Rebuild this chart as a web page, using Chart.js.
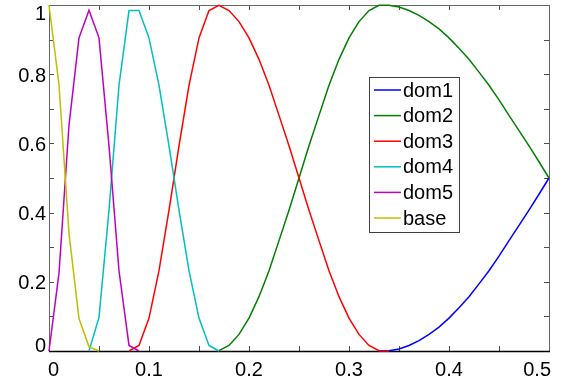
<!DOCTYPE html>
<html>
<head>
<meta charset="utf-8">
<script src="https://cdn.jsdelivr.net/npm/chart.js@4.4.1/dist/chart.umd.min.js"></script>
<style>
  html, body { margin: 0; padding: 0; background: #fff; }
  canvas { display: block; }
</style>
</head>
<body>
<canvas id="chart-canvas" width="566" height="382"></canvas>
<script>
// sample positions along x (0 .. 0.5)
const xs = [0, 0.01, 0.02, 0.03, 0.04, 0.05, 0.06, 0.07, 0.08, 0.09,
  0.10, 0.11, 0.12, 0.13, 0.14, 0.15, 0.16, 0.17, 0.18, 0.19,
  0.20, 0.21, 0.22, 0.23, 0.24, 0.25, 0.26, 0.27, 0.28, 0.29,
  0.30, 0.31, 0.32, 0.33, 0.34, 0.35, 0.36, 0.37, 0.38, 0.39,
  0.40, 0.41, 0.42, 0.43, 0.44, 0.45, 0.46, 0.47, 0.48, 0.49, 0.50];

const N = null;
// values, null where a curve is not drawn
const dom1 = [N, N, N, N, N, N, N, N, N, N,
  N, N, N, N, N, N, N, N, N, N,
  N, N, N, N, N, N, N, N, N, N,
  N, N, N, 0, 0.001, 0.006, 0.016, 0.030, 0.048, 0.069,
  0.095, 0.125, 0.157, 0.194, 0.232, 0.274, 0.319, 0.363, 0.407, 0.453, 0.50];
const dom2 = [N, N, N, N, N, N, N, N, N, N,
  N, N, N, N, N, N, N, 0.001, 0.016, 0.048,
  0.095, 0.157, 0.232, 0.319, 0.407, 0.50, 0.593, 0.681, 0.768, 0.843,
  0.905, 0.952, 0.984, 0.999, 0.999, 0.994, 0.984, 0.970, 0.952, 0.931,
  0.905, 0.875, 0.843, 0.806, 0.768, 0.726, 0.681, 0.637, 0.593, 0.547, 0.50];
const dom3 = [N, N, N, N, N, N, N, N, 0, 0.016,
  0.095, 0.232, 0.407, 0.593, 0.768, 0.905, 0.984, 0.999, 0.984, 0.952,
  0.905, 0.843, 0.768, 0.681, 0.593, 0.50, 0.407, 0.319, 0.232, 0.157,
  0.095, 0.048, 0.016, 0.001, 0, N, N, N, N, N,
  N, N, N, N, N, N, N, N, N, N, N];
const dom4 = [N, N, N, N, 0, 0.097, 0.407, 0.768, 0.984, 0.984,
  0.905, 0.768, 0.593, 0.407, 0.232, 0.095, 0.016, 0, N, N,
  N, N, N, N, N, N, N, N, N, N,
  N, N, N, N, N, N, N, N, N, N,
  N, N, N, N, N, N, N, N, N, N, N];
const dom5 = [0, 0.225, 0.653, 0.905, 0.985, 0.905, 0.593, 0.232, 0.016, 0,
  N, N, N, N, N, N, N, N, N, N,
  N, N, N, N, N, N, N, N, N, N,
  N, N, N, N, N, N, N, N, N, N,
  N, N, N, N, N, N, N, N, N, N, N];
const base = [1, 0.77, 0.34, 0.094, 0.012, 0, N, N, N, N,
  N, N, N, N, N, N, N, N, N, N,
  N, N, N, N, N, N, N, N, N, N,
  N, N, N, N, N, N, N, N, N, N,
  N, N, N, N, N, N, N, N, N, N, N];

const seriesNames = ['dom1', 'dom2', 'dom3', 'dom4', 'dom5', 'base'];
const seriesColors = ['#0000ff', '#008000', '#ff0000', '#00bfbf', '#bf00bf', '#bfbf00'];
const seriesValues = [dom1, dom2, dom3, dom4, dom5, base];

const xTickMarks = [0, 0.05, 0.1, 0.15, 0.2, 0.25, 0.3, 0.35, 0.4, 0.45, 0.5];
const xTickLabels = [[0, '0'], [0.1, '0.1'], [0.2, '0.2'], [0.3, '0.3'], [0.4, '0.4'], [0.5, '0.5']];
const yTickMarks = [0, 0.1, 0.2, 0.3, 0.4, 0.5, 0.6, 0.7, 0.8, 0.9, 1];
const yTickLabels = [[0, '0'], [0.2, '0.2'], [0.4, '0.4'], [0.6, '0.6'], [0.8, '0.8'], [1, '1']];

const FONT = '20px "Liberation Sans", Arial, sans-serif';

// MATLAB style box, inward ticks and labels
const matlabAxes = {
  id: 'matlabAxes',
  beforeDatasetsDraw(chart) {
    const { ctx, chartArea: a, scales: { x, y } } = chart;
    ctx.save();
    ctx.strokeStyle = '#4d4d4d';
    ctx.lineWidth = 1;
    ctx.beginPath();
    xTickMarks.forEach(v => {
      const px = Math.round(x.getPixelForValue(v)) + 0.5;
      ctx.moveTo(px, a.bottom); ctx.lineTo(px, a.bottom - 5);
      ctx.moveTo(px, a.top); ctx.lineTo(px, a.top + 5);
    });
    yTickMarks.forEach(v => {
      const py = Math.round(y.getPixelForValue(v)) + 0.5;
      ctx.moveTo(a.left, py); ctx.lineTo(a.left + 5, py);
      ctx.moveTo(a.right, py); ctx.lineTo(a.right - 5, py);
    });
    ctx.stroke();
    ctx.strokeStyle = '#666';
    ctx.strokeRect(a.left + 0.5, a.top + 0.5, a.right - a.left, a.bottom - a.top);
    ctx.strokeStyle = '#000';
    ctx.lineWidth = 1.5;
    ctx.beginPath();
    ctx.moveTo(a.left, a.bottom + 0.5); ctx.lineTo(a.right + 1, a.bottom + 0.5);
    ctx.stroke();

    ctx.fillStyle = '#000';
    ctx.font = FONT;
    ctx.textBaseline = 'alphabetic';
    ctx.textAlign = 'center';
    xTickLabels.forEach(([v, t]) => {
      const w = ctx.measureText(t).width;
      let cx = x.getPixelForValue(v);
      cx = Math.max(a.left - 1 + w / 2, Math.min(a.right + 2 - w / 2, cx));
      ctx.fillText(t, cx, a.bottom + 25);
    });
    ctx.textAlign = 'right';
    yTickLabels.forEach(([v, t]) => {
      let by = y.getPixelForValue(v) + 7.5;
      by = Math.max(a.top + 15, Math.min(a.bottom + 1, by));
      ctx.fillText(t, a.left - 3, by);
    });
    ctx.restore();
  },
  afterDraw(chart) {
    const { ctx, chartArea: a } = chart;
    const lx = a.right - 180, ly = a.top + 72, lw = 90, lh = 155;
    ctx.save();
    ctx.fillStyle = '#fff';
    ctx.fillRect(lx, ly, lw, lh);
    ctx.strokeStyle = '#404040';
    ctx.lineWidth = 1;
    ctx.strokeRect(lx + 0.5, ly + 0.5, lw, lh);
    ctx.font = FONT;
    ctx.textBaseline = 'middle';
    ctx.textAlign = 'left';
    chart.data.datasets.forEach((ds, i) => {
      const cy = ly + 13 + i * 25.6;
      ctx.strokeStyle = ds.borderColor;
      ctx.lineWidth = 1.5;
      ctx.beginPath();
      ctx.moveTo(lx + 5, cy); ctx.lineTo(lx + 32, cy);
      ctx.stroke();
      ctx.fillStyle = '#000';
      ctx.fillText(ds.label, lx + 34, cy + 1);
    });
    ctx.restore();
  }
};

new Chart(document.getElementById('chart-canvas'), {
  type: 'line',
  plugins: [matlabAxes],
  data: {
    datasets: seriesNames.map((name, k) => ({
      label: name,
      data: xs.map((v, i) => ({ x: v, y: seriesValues[k][i] })),
      borderColor: seriesColors[k],
      backgroundColor: seriesColors[k],
      borderWidth: 1.5,
      pointRadius: 0,
      tension: 0,
      spanGaps: false,
      clip: 3,
      // later series on top, like the original plot order
      order: seriesNames.length - k,
    }))
  },
  options: {
    responsive: false,
    animation: false,
    devicePixelRatio: 1,
    layout: { padding: { left: 49, right: 17, top: 5, bottom: 31 } },
    plugins: {
      legend: { display: false },
      tooltip: { enabled: false },
    },
    scales: {
      x: { type: 'linear', min: 0, max: 0.5, display: false },
      y: { type: 'linear', min: 0, max: 1, display: false },
    }
  }
});
</script>
</body>
</html>
